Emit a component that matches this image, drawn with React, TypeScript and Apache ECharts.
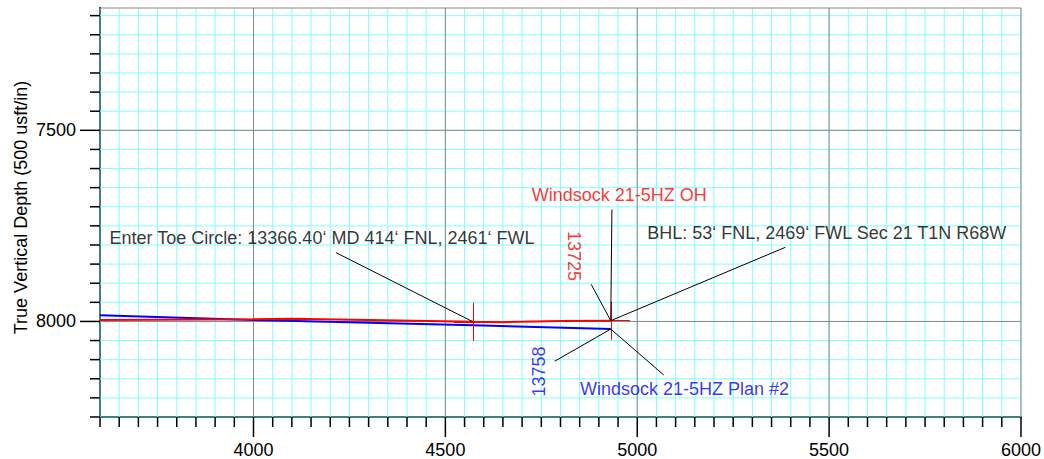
import React, { useEffect, useRef } from 'react';
import * as echarts from 'echarts';

// Axis ranges and ticks
const xMin = 3600;
const xMax = 6000;
const yMin = 7180;
const yMax = 8250;
const xMajorTicks = [4000, 4500, 5000, 5500, 6000];
const yMajorTicks = [7500, 8000];
const xTickValues = [
  3600, 3650, 3700, 3750, 3800, 3850, 3900, 3950, 4000, 4050, 4100, 4150, 4200,
  4250, 4300, 4350, 4400, 4450, 4500, 4550, 4600, 4650, 4700, 4750, 4800, 4850,
  4900, 4950, 5000, 5050, 5100, 5150, 5200, 5250, 5300, 5350, 5400, 5450, 5500,
  5550, 5600, 5650, 5700, 5750, 5800, 5850, 5900, 5950, 6000,
];
const yTickValues = [
  7200, 7250, 7300, 7350, 7400, 7450, 7500, 7550, 7600, 7650, 7700,
  7750, 7800, 7850, 7900, 7950, 8000, 8050, 8100, 8150, 8200, 8250,
];

// Wellbore: Windsock 21-5HZ OH (red)
const ohVS = [3600, 4000, 4100, 4300, 4572, 4650, 4800, 4931];
const ohTVD = [7996, 7994, 7993, 7996, 8001, 8002, 7999, 7998];

// Wellbore: Windsock 21-5HZ Plan #2 (blue)
const planVS = [3600, 4000, 4572, 4931];
const planTVD = [7984, 7996, 8010, 8020];

// Marker crosses (toe circle entry, OH end)
const crossX = [4572, 4931];
const crossY = [8001, 7998];
const crossHalf = 50;

// Leader lines
const leaderX1 = [4215, 4934, 4880, 5386, 4785, 5069];
const leaderY1 = [7820, 7707, 7903, 7806, 8104, 8140];
const leaderX2 = [4572, 4931, 4931, 4931, 4931, 4931];
const leaderY2 = [8001, 7998, 7998, 7998, 8020, 8020];

// Annotation texts
const noteTexts = [
  'Enter Toe Circle: 13366.40\u2018 MD 414\u2018 FNL, 2461\u2018 FWL',
  'Windsock 21-5HZ OH',
  'BHL: 53\u2018 FNL, 2469\u2018 FWL Sec 21 T1N R68W',
  '13725',
  '13758',
  'Windsock 21-5HZ Plan #2',
];
const noteX = [3625, 4953, 5026, 4834, 4743, 5123];
const noteY = [7783, 7668, 7768, 7829, 8131, 8176];
const noteColors = ['#000000', '#ff0000', '#000000', '#ff0000', '#0000ff', '#0000ff'];
const noteRotate = [0, 0, 0, -90, 90, 0];
const noteAlign = ['left', 'center', 'left', 'center', 'center', 'center'];

const FONT = '"Liberation Sans", Arial, sans-serif';

export default function App() {
  const ref = useRef<HTMLDivElement>(null);

  useEffect(() => {
    const chart = echarts.init(ref.current as HTMLDivElement, null, { renderer: 'svg' });

    const axisLineStyle = { color: '#000000', width: 2 };
    const tickStyle = { stroke: '#000000', lineWidth: 1.5 };

    const crossLines: any[] = [];
    crossX.forEach((cx, i) => {
      crossLines.push([{ coord: [cx, crossY[i] - crossHalf] }, { coord: [cx, crossY[i] + crossHalf] }]);
      crossLines.push([{ coord: [cx - crossHalf, crossY[i]] }, { coord: [cx + crossHalf, crossY[i]] }]);
    });

    const leaders = leaderX1.map((x1, i) => [
      { coord: [x1, leaderY1[i]] },
      { coord: [leaderX2[i], leaderY2[i]] },
    ]);

    const notes = noteTexts.map((t, i) => ({
      value: [noteX[i], noteY[i]],
      label: {
        show: true,
        formatter: t,
        color: noteColors[i],
        rotate: noteRotate[i],
        align: noteAlign[i],
        verticalAlign: 'middle',
        position: 'inside',
        fontSize: 18,
        fontFamily: FONT,
      },
    }));

    // grid line items: [value, isVertical(1)/horizontal(0), isMajor]
    const gridItems: number[][] = [
      ...xTickValues.map((v) => [v, 1, 0]),
      ...yTickValues.map((v) => [v, 0, 0]),
      ...xMajorTicks.map((v) => [v, 1, 1]),
      ...yMajorTicks.map((v) => [v, 0, 1]),
      [yMin, 0, 1],
    ];

    const noMinor = {
      minorTick: { show: false },
      minorSplitLine: { show: false },
      splitArea: { show: false },
    };

    const option: any = {
      animation: false,
      backgroundColor: '#ffffff',
      textStyle: { fontFamily: FONT },
      grid: { left: 100, right: 22, top: 8, bottom: 41, containLabel: false },
      xAxis: {
        type: 'value',
        min: xMin,
        max: xMax,
        interval: 50,
        position: 'bottom',
        axisLine: { show: true, onZero: false, lineStyle: axisLineStyle },
        axisTick: { show: false },
        axisLabel: {
          show: true,
          fontSize: 18,
          color: '#000000',
          margin: 24,
          fontFamily: FONT,
          formatter: (v: number) => (xMajorTicks.indexOf(v) >= 0 ? String(v) : ''),
        },
        splitLine: { show: false },
        ...noMinor,
      },
      yAxis: {
        type: 'value',
        inverse: true,
        min: yMin,
        max: yMax,
        minInterval: 50,
        maxInterval: 50,
        splitNumber: 21,
        position: 'left',
        name: 'True Vertical Depth (500 usft/in)',
        nameLocation: 'middle',
        nameGap: 70,
        nameRotate: 90,
        nameMoveOverlap: false,
        nameTextStyle: { fontSize: 18, color: '#000000', fontFamily: FONT, padding: [0, 0, 0, 10] },
        axisLine: { show: true, onZero: false, lineStyle: axisLineStyle },
        axisTick: { show: false },
        axisLabel: {
          show: true,
          fontSize: 18,
          color: '#000000',
          margin: 24,
          fontFamily: FONT,
          formatter: (v: number) => (yMajorTicks.indexOf(v) >= 0 ? String(v) : ''),
        },
        splitLine: { show: false },
        ...noMinor,
      },
      series: [
        {
          type: 'custom',
          name: 'gridLines',
          silent: true,
          clip: false,
          z: 1,
          data: gridItems,
          renderItem: (params: any, api: any) => {
            const v = api.value(0);
            const vertical = api.value(1) === 1;
            const major = api.value(2) === 1;
            const a = vertical ? api.coord([v, yMin]) : api.coord([xMin, v]);
            const b = vertical ? api.coord([v, yMax]) : api.coord([xMax, v]);
            return {
              type: 'line',
              shape: { x1: a[0], y1: a[1], x2: b[0], y2: b[1] },
              style: { stroke: major ? '#888888' : '#80ffff', lineWidth: 1 },
              z2: major ? 2 : 1,
            };
          },
        },
        {
          type: 'custom',
          name: 'xTicks',
          silent: true,
          clip: false,
          z: 7,
          data: xTickValues.map((v) => [v, yMax]),
          renderItem: (params: any, api: any) => {
            const v = api.value(0);
            const p = api.coord([v, api.value(1)]);
            const len = xMajorTicks.indexOf(v) >= 0 ? 20 : 10;
            return {
              type: 'line',
              shape: { x1: p[0], y1: p[1], x2: p[0], y2: p[1] + len },
              style: tickStyle,
            };
          },
        },
        {
          type: 'custom',
          name: 'yTicks',
          silent: true,
          clip: false,
          z: 7,
          data: yTickValues.map((v) => [xMin, v]),
          renderItem: (params: any, api: any) => {
            const v = api.value(1);
            const p = api.coord([api.value(0), v]);
            const len = yMajorTicks.indexOf(v) >= 0 ? 20 : 10;
            return {
              type: 'line',
              shape: { x1: p[0] - len, y1: p[1], x2: p[0], y2: p[1] },
              style: tickStyle,
            };
          },
        },
        {
          type: 'line',
          name: 'Windsock 21-5HZ Plan #2',
          data: planVS.map((x, i) => [x, planTVD[i]]),
          symbol: 'none',
          z: 3,
          lineStyle: { color: '#0000ff', width: 2 },
        },
        {
          type: 'line',
          name: 'Windsock 21-5HZ OH',
          data: ohVS.map((x, i) => [x, ohTVD[i]]),
          symbol: 'none',
          z: 4,
          lineStyle: { color: '#ff0000', width: 2 },
          markLine: {
            z: 4,
            silent: true,
            symbol: ['none', 'none'],
            label: { show: false },
            lineStyle: { color: '#ff0000', width: 1, type: 'solid' },
            data: crossLines,
          },
        },
        {
          type: 'line',
          name: 'leaders',
          data: [],
          z: 5,
          silent: true,
          markLine: {
            z: 5,
            silent: true,
            symbol: ['none', 'none'],
            label: { show: false },
            lineStyle: { color: '#000000', width: 1, type: 'solid' },
            data: leaders,
          },
        },
        {
          type: 'scatter',
          name: 'notes',
          z: 6,
          symbolSize: 1,
          itemStyle: { color: 'rgba(0,0,0,0)' },
          silent: true,
          data: notes,
        },
      ],
    };

    chart.setOption(option);
    return () => chart.dispose();
  }, []);

  return (
    <div
      ref={ref}
      style={{ position: 'fixed', left: 0, top: 0, width: 1044, height: 459, background: '#ffffff' }}
    />
  );
}
